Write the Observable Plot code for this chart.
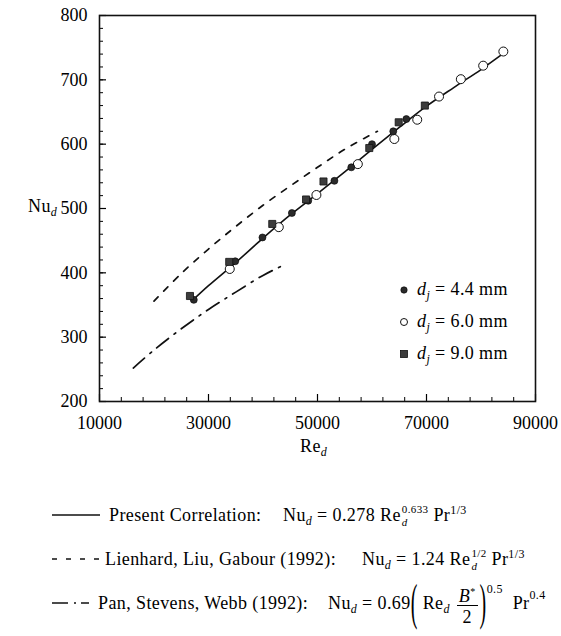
<!DOCTYPE html>
<html><head><meta charset="utf-8">
<script src="https://cdn.jsdelivr.net/npm/d3@7"></script>
<script src="https://cdn.jsdelivr.net/npm/@observablehq/plot@0.6"></script>
<style>
body{margin:0;background:#fff}
#wrap{position:relative;width:561px;height:636px;font-family:"Liberation Serif","Times New Roman",serif;color:#000;background:#fff}
#wrap > svg{position:absolute;left:0;top:0}
.t{position:absolute;white-space:nowrap;font-size:18px;line-height:60px;height:60px;letter-spacing:0.4px}
.t i{font-style:italic}
.sub{font-size:12px;font-style:italic;vertical-align:-4px;line-height:12px}
.sup{font-size:12px;vertical-align:7px;line-height:12px}
.stack{display:inline-flex;flex-direction:column;vertical-align:8px;font-size:11px;line-height:13px;margin-left:1px}
.stack i{font-style:italic}
.par{display:inline-block;font-size:20px;line-height:20px;transform:scaleY(2.5);transform-origin:50% 50%;vertical-align:1px}
.frac{display:inline-flex;flex-direction:column;align-items:center;vertical-align:7px;margin:0 2px}
.num{font-size:18px;line-height:18px;border-bottom:1px solid #000;padding:0 2px 0 2px}
.den{font-size:18px;line-height:18px;padding-top:2px}
.sym{vertical-align:0px;margin-right:8px}
.samp{vertical-align:4px;margin-right:9px}
</style>
</head><body>
<div id="wrap"></div>
<script>
// ---- data ----
const rePresent = [27300, 30000, 35000, 40000, 45000, 50000, 55000, 60000, 65000, 70000, 75000, 80000, 84100];
const nuPresent = [359, 380, 416, 454, 490, 523, 557, 592, 626, 659, 688, 716, 741];

const reLienhard = [20000, 25000, 30000, 35000, 40000, 45000, 50000, 55000, 61000];
const nuLienhard = [356, 399, 437, 472, 505, 535, 564, 592, 620];

const rePan = [16200, 20000, 25000, 30000, 35000, 40000, 43300];
const nuPan = [252, 280, 313, 343, 370, 396, 410];

const re44 = [27300, 34900, 39900, 45300, 48300, 53100, 56200, 60000, 63900, 66300];
const nu44 = [358, 418, 455, 493, 512, 543, 564, 600, 620, 639];

const re60 = [33900, 42900, 49800, 57400, 64100, 68300, 72300, 76300, 80400, 84100];
const nu60 = [406, 471, 521, 569, 608, 638, 674, 701, 722, 744];

const re90 = [26600, 33800, 41700, 47900, 51100, 59500, 64900, 69700];
const nu90 = [364, 417, 476, 514, 542, 594, 634, 660];

const xTicks = [10000, 30000, 50000, 70000, 90000];
const yTicks = [200, 300, 400, 500, 600, 700, 800];
const xMinor = d3.range(10000, 90001, 4000);
const yMinor = d3.range(200, 801, 20);

const pts = (xs, ys) => xs.map((x, i) => ({x, y: ys[i]}));

const chart = Plot.plot({
  width: 561, height: 470,
  marginLeft: 99, marginRight: 26, marginTop: 15, marginBottom: 69,
  x: {domain: [10000, 90000], label: null},
  y: {domain: [200, 800], label: null},
  style: {fontFamily: "'Liberation Serif', 'Times New Roman', serif", fontSize: "18px", color: "#000", background: "white"},
  marks: [
    Plot.axisX({ticks: xMinor, tickSize: -4, tickFormat: () => "", label: null, strokeWidth: 1}),
    Plot.axisX({ticks: xTicks, tickSize: -7, tickFormat: () => "", label: null, strokeWidth: 1.2}),
    Plot.axisX({ticks: xTicks, tickSize: 0, tickPadding: 15, tickFormat: d => String(d), label: null}),
    Plot.axisY({ticks: yMinor, tickSize: -4, tickFormat: () => "", label: null, strokeWidth: 1}),
    Plot.axisY({ticks: yTicks, tickSize: -7, tickFormat: () => "", label: null, strokeWidth: 1.2}),
    Plot.axisY({ticks: yTicks, tickSize: 0, tickPadding: 12, tickFormat: d => String(d), label: null}),
    Plot.line(pts(reLienhard, nuLienhard), {x: "x", y: "y", stroke: "#111", strokeWidth: 1.7, strokeDasharray: "6,8", curve: "catmull-rom"}),
    Plot.line(pts(rePan, nuPan), {x: "x", y: "y", stroke: "#111", strokeWidth: 1.7, strokeDasharray: "15,7,2,7", curve: "catmull-rom"}),
    Plot.line(pts(rePresent, nuPresent), {x: "x", y: "y", stroke: "#111", strokeWidth: 1.6, curve: "catmull-rom"}),
    Plot.dot(pts(re60, nu60), {x: "x", y: "y", r: 4.5, fill: "white", stroke: "#111", strokeWidth: 1}),
    Plot.dot(pts(re44, nu44), {x: "x", y: "y", r: 3.5, fill: "#2a2a2a", stroke: "#000", strokeWidth: 0.6}),
    Plot.dot(pts(re90, nu90), {x: "x", y: "y", r: 4, symbol: "square", fill: "#3c3c3c", stroke: "#111", strokeWidth: 0.8}),
    Plot.frame({stroke: "#111", strokeWidth: 1.6})
  ]
});

const wrap = document.getElementById("wrap");
wrap.appendChild(chart);

// text overlays: baseline = top + 36.1 (18px font, 60px line-height)
function addText(left, baseline, html) {
  const d = document.createElement("div");
  d.className = "t";
  d.style.left = left + "px";
  d.style.top = (baseline - 36.1) + "px";
  d.innerHTML = html;
  wrap.appendChild(d);
}
const symFilled = '<svg class="sym" width="10" height="10"><circle cx="5" cy="5" r="3.2" fill="#2a2a2a" stroke="#000" stroke-width="0.6"/></svg>';
const symOpen = '<svg class="sym" width="10" height="10"><circle cx="5" cy="5" r="3.5" fill="white" stroke="#111" stroke-width="1"/></svg>';
const symSquare = '<svg class="sym" width="10" height="10"><rect x="1.5" y="1.5" width="7" height="7" fill="#3c3c3c" stroke="#111" stroke-width="0.8"/></svg>';

addText(28, 212, 'Nu<span class="sub">d</span>');
addText(300, 452, 'Re<span class="sub">d</span>');

addText(399, 295, symFilled + '<i>d</i><span class="sub">j</span> = 4.4 mm');
addText(399, 327, symOpen + '<i>d</i><span class="sub">j</span> = 6.0 mm');
addText(399, 359, symSquare + '<i>d</i><span class="sub">j</span> = 9.0 mm');

const sampSolid = '<svg class="samp" width="48" height="4"><line x1="0" y1="2" x2="48" y2="2" stroke="#111" stroke-width="1.4"/></svg>';
const sampDash = '<svg class="samp" width="50" height="4" style="margin-right:3px"><line x1="0" y1="2" x2="50" y2="2" stroke="#111" stroke-width="1.4" stroke-dasharray="5,9"/></svg>';
const sampDashDot = '<svg class="samp" width="37" height="4" style="margin-right:9px"><line x1="0" y1="2" x2="37" y2="2" stroke="#111" stroke-width="1.4" stroke-dasharray="16,6,2,5,8,10"/></svg>';

addText(52, 521, sampSolid + 'Present Correlation:');
addText(283, 521, 'Nu<span class="sub">d</span> = 0.278 Re<span class="stack"><span>0.633</span><i>d</i></span> Pr<span class="sup">1/3</span>');

addText(52, 565, sampDash + 'Lienhard, Liu, Gabour (1992):');
addText(362, 565, 'Nu<span class="sub">d</span> = 1.24 Re<span class="stack"><span>1/2</span><i>d</i></span> Pr<span class="sup">1/3</span>');

addText(52, 609, sampDashDot + 'Pan, Stevens, Webb (1992):');
addText(328, 609, 'Nu<span class="sub">d</span> = 0.69<span class="par">(</span> Re<span class="sub">d</span> <span class="frac"><span class="num"><i>B</i><span style="font-size:10px;vertical-align:7px">*</span></span><span class="den">2</span></span><span class="par">)</span><span style="font-size:12px;vertical-align:16px;line-height:12px">0.5</span>&nbsp; Pr<span style="font-size:12px;vertical-align:10px;line-height:12px">0.4</span>');
</script>
</body></html>
